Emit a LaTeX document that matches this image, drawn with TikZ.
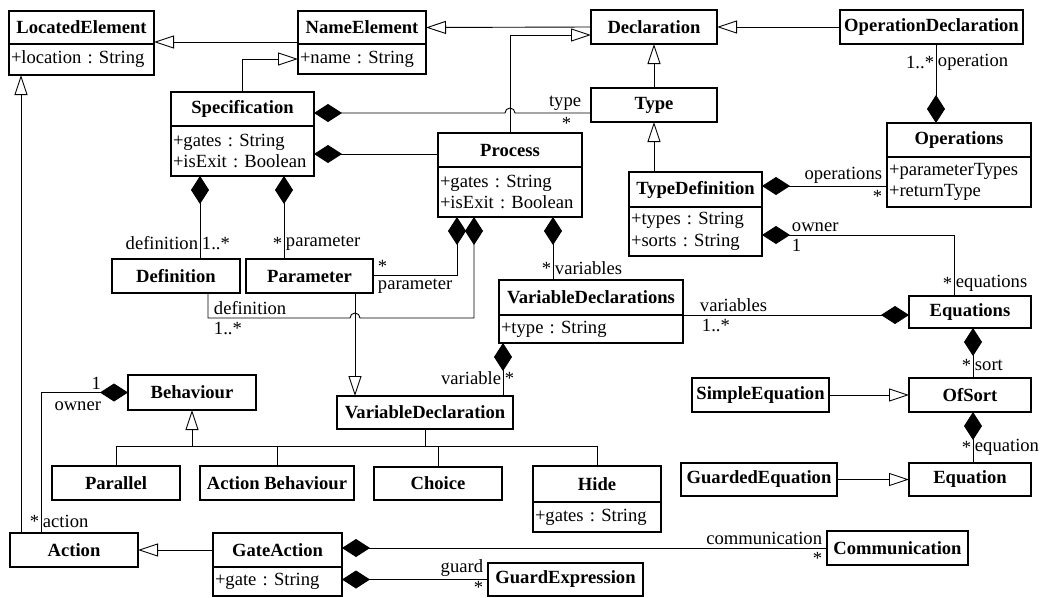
\documentclass[tikz,border=0pt]{standalone}
\usepackage{fontspec}
\setmainfont{Liberation Serif}
\newfontfamily\umlserif{Liberation Serif}
\usetikzlibrary{arrows.meta}
\newcommand\umlfont{\umlserif\frenchspacing\fontsize{18.6}{21.5}\selectfont}

\begin{document}
\begin{tikzpicture}[x=1pt, y=-1pt, line width=0.9pt,
    cls/.style={draw, line width=1.6pt, outer sep=0pt, inner sep=1pt, font=\umlfont\bfseries},
    clsattr/.style={draw, line width=1.6pt, outer sep=0pt, inner xsep=2pt, inner ysep=1pt,
      align=left, anchor=north, font=\umlfont},
    lbl/.style={font=\umlfont, inner sep=1.5pt},
    up/.style={yshift=1pt},
    down/.style={yshift=-2.5pt},
    gen/.style={-{Triangle[length=20pt, width=13pt, fill=white]}},
    comp/.style={-{Diamond[length=28pt, width=18pt]}}]
        \useasboundingbox (0,0) rectangle (1043,597);

        % classes, top row
        \node[cls, minimum width=145pt, minimum height=33pt] (located) at (81.5,27.5) {LocatedElement};
        \node[clsattr, text width=141pt, minimum height=31pt] (locattr) at (located.south) {+location : String};
        \node[cls, minimum width=128pt, minimum height=33pt] (nameel) at (362,27.5) {NameElement};
        \node[clsattr, text width=124pt, minimum height=30pt] (nameattr) at (nameel.south) {+name : String};
        \node[cls, minimum width=126pt, minimum height=34pt] (decl) at (654,27) {Declaration};
        \node[cls, minimum width=183pt, minimum height=34pt] (opdecl) at (931.5,27) {OperationDeclaration};

        \node[cls, minimum width=143pt, minimum height=34pt] (spec) at (242.5,109) {Specification};
        \node[clsattr, text width=139pt, minimum height=50pt] (specattr) at (spec.south) {+gates : String\\+isExit : Boolean};
        \node[cls, minimum width=126pt, minimum height=34pt] (type) at (654,105) {Type};
        \node[cls, minimum width=144pt, minimum height=34pt] (process) at (510,150) {Process};
        \node[clsattr, text width=140pt, minimum height=50pt] (procattr) at (process.south) {+gates : String\\+isExit : Boolean};
        \node[cls, minimum width=144pt, minimum height=34pt] (ops) at (959,140) {Operations};
        \node[clsattr, text width=140pt, minimum height=50pt] (opsattr) at (ops.south) {+parameterTypes\\+returnType};
        \node[cls, minimum width=133pt, minimum height=35pt] (typedef) at (695.5,189.5) {TypeDefinition};
        \node[clsattr, text width=129pt, minimum height=49pt] (tdattr) at (typedef.south) {+types : String\\+sorts : String};

        \node[cls, minimum width=128pt, minimum height=34pt] (definition) at (176,276) {Definition};
        \node[cls, minimum width=127pt, minimum height=34pt] (param) at (309.5,276) {Parameter};
        \node[cls, minimum width=184pt, minimum height=35pt] (vds) at (591,297.5) {VariableDeclarations};
        \node[clsattr, text width=180pt, minimum height=28pt] (vdsattr) at (vds.south) {+type : String};
        \node[cls, minimum width=122pt, minimum height=32pt] (equations) at (970,312) {Equations};

        \node[cls, minimum width=128pt, minimum height=35pt] (behaviour) at (192,392.5) {Behaviour};
        \node[cls, minimum width=176pt, minimum height=33pt] (vardecl) at (425,412.5) {VariableDeclaration};
        \node[cls, minimum width=137pt, minimum height=34pt] (simpleeq) at (760.5,395) {SimpleEquation};
        \node[cls, minimum width=122pt, minimum height=34pt] (ofsort) at (970,395) {OfSort};

        \node[cls, minimum width=128pt, minimum height=34pt] (parallel) at (116,483) {Parallel};
        \node[cls, minimum width=154pt, minimum height=34pt] (actbeh) at (277,483) {Action Behaviour};
        \node[cls, minimum width=128pt, minimum height=33pt] (choice) at (438,483.5) {Choice};
        \node[cls, minimum width=128pt, minimum height=36pt] (hide) at (597,484) {Hide};
        \node[clsattr, text width=124pt, minimum height=30pt] (hideattr) at (hide.south) {+gates : String};
        \node[cls, minimum width=156pt, minimum height=33pt] (guardeq) at (759,479.5) {GuardedEquation};
        \node[cls, minimum width=122pt, minimum height=33pt] (equation) at (970,479.5) {Equation};

        \node[cls, minimum width=128pt, minimum height=34pt] (action) at (74,550) {Action};
        \node[cls, minimum width=129pt, minimum height=34pt] (gate) at (277.5,550) {GateAction};
        \node[clsattr, text width=125pt, minimum height=29pt] (gateattr) at (gate.south) {+gate : String};
        \node[cls, minimum width=155pt, minimum height=33pt] (guardexp) at (565.5,579.5) {GuardExpression};
        \node[cls, minimum width=141pt, minimum height=34pt] (comm) at (897.5,548) {Communication};

        % generalizations
        \draw[gen] (nameel.west |- 0,42) -- (located.east |- 0,42);
        \draw[gen] (spec.north) |- (nameattr.west);
        \draw[gen] (decl.west) -- (nameel.east);
        \draw[gen] (opdecl.west) -- (decl.east);
        \draw[gen] (process.north) |- (decl.west |- 0,35);
        \draw[gen] (type.north) -- (decl.south);
        \draw[gen] (type.south |- typedef.north) -- (type.south);
        \draw[gen] (action.north -| 21,0) -- (locattr.south -| 21,0);
        \draw[gen] (gate.west) -- (action.east);
        \draw[gen] (param.south -| 355,0) -- (vardecl.north -| 355,0);
        \draw[gen] (simpleeq.east) -- (ofsort.west);
        \draw[gen] (guardeq.east) -- (equation.west);

        \coordinate (split) at (192,446);
        \draw[gen] (split) -- (behaviour.south);
        \draw (parallel.north) |- (hide.north |- split) -- (hide.north);
        \draw (actbeh.north) -- (actbeh.north |- split);
        \draw (choice.north) -- (choice.north |- split);
        \draw (vardecl.south) -- (vardecl.south |- split);

        % compositions
        \draw[comp] (type.west |- 0,113) node[lbl, up, anchor=south east, xshift=-8pt] {type}
          node[lbl, down, anchor=north east, xshift=-18pt] {*}
          -- (515,113) arc (0:-180:5) -- (spec.east |- 0,113);
        \draw[comp] (process.west |- 0,154) -- (specattr.east |- 0,154);
        \draw[comp] (definition.north -| 200,0) -- node[lbl, anchor=east, pos=0.19] {definition}
          node[lbl, anchor=west, pos=0.19] {1..*} (specattr.south -| 200,0);
        \draw[comp] (param.north -| 284,0) -- node[lbl, anchor=east, pos=0.19] {*}
          node[lbl, anchor=west, pos=0.19] {parameter} (specattr.south -| 284,0);
        \draw[comp] (param.east |- 0,275) node[lbl, up, anchor=south west, xshift=3pt] {*}
          node[lbl, down, anchor=north west, xshift=3pt] {parameter} -| (procattr.south -| 457,0);
        \draw[comp] (definition.south -| 208,0) -- (208,318)
          node[lbl, up, anchor=south west, xshift=4pt] {definition}
          node[lbl, down, anchor=north west, xshift=4pt] {1..*}
          -- (350,318) arc (-180:0:5) -- (474,318) -- (procattr.south -| 474,0);
        \draw[comp] (vds.north -| 553,0) -- node[lbl, anchor=east, pos=0.19] {*}
          node[lbl, anchor=west, pos=0.19] {variables} (procattr.south -| 553,0);
        \draw[comp] (vardecl.north -| 503,0) -- node[lbl, anchor=east, pos=0.34] {variable}
          node[lbl, anchor=west, pos=0.34] {*} (vdsattr.south -| 503,0);
        \draw[comp] (vds.south east) node[lbl, up, anchor=south west, xshift=15pt] {variables}
          node[lbl, down, anchor=north west, xshift=17pt] {1..*} -- (equations.west |- vds.south east);

        \draw[comp] (opdecl.south -| 936,0) -- node[lbl, anchor=east, pos=0.23] {1..*}
          node[lbl, anchor=west, pos=0.23] {operation} (ops.north -| 936,0);
        \draw[comp] (ops.west |- 0,186) node[lbl, up, anchor=south east, xshift=-3pt] {operations}
          node[lbl, down, anchor=north east, xshift=-3pt] {*} -- (typedef.east |- 0,186);
        \draw[comp] (equations.north -| 954,0) |- node[lbl, anchor=east, pos=0.107] {*}
          node[lbl, anchor=west, pos=0.107] {equations}
          node[lbl, up, anchor=south west, pos=0.927] {owner}
          node[lbl, down, anchor=north west, pos=0.927] {1} (tdattr.east |- 0,235);
        \draw[comp] (ofsort.north -| 973,0) -- node[lbl, anchor=east, pos=0.26] {*}
          node[lbl, anchor=west, pos=0.26] {sort} (equations.south -| 973,0);
        \draw[comp] (equation.north -| 973,0) -- node[lbl, anchor=east, pos=0.31] {*}
          node[lbl, anchor=west, pos=0.31] {equation} (ofsort.south -| 973,0);

        \draw[comp] (action.north -| 41,0) |- node[lbl, anchor=east, pos=0.04] {*}
          node[lbl, anchor=west, pos=0.04] {action}
          node[lbl, up, anchor=south east, pos=0.856] {1}
          node[lbl, anchor=north east, pos=0.856, yshift=-7pt] {owner} (behaviour.west);
        \draw[comp] (comm.west) node[lbl, up, anchor=south east, xshift=-3pt] {communication}
          node[lbl, down, anchor=north east, xshift=-3pt] {*} -- (gate.east |- comm.west);
        \draw[comp] (guardexp.west) node[lbl, up, anchor=south east, xshift=-3pt] {guard}
          node[lbl, anchor=north east, xshift=-3pt, yshift=0.5pt] {*} -- (gateattr.east |- guardexp.west);
      \end{tikzpicture}
\end{document}
